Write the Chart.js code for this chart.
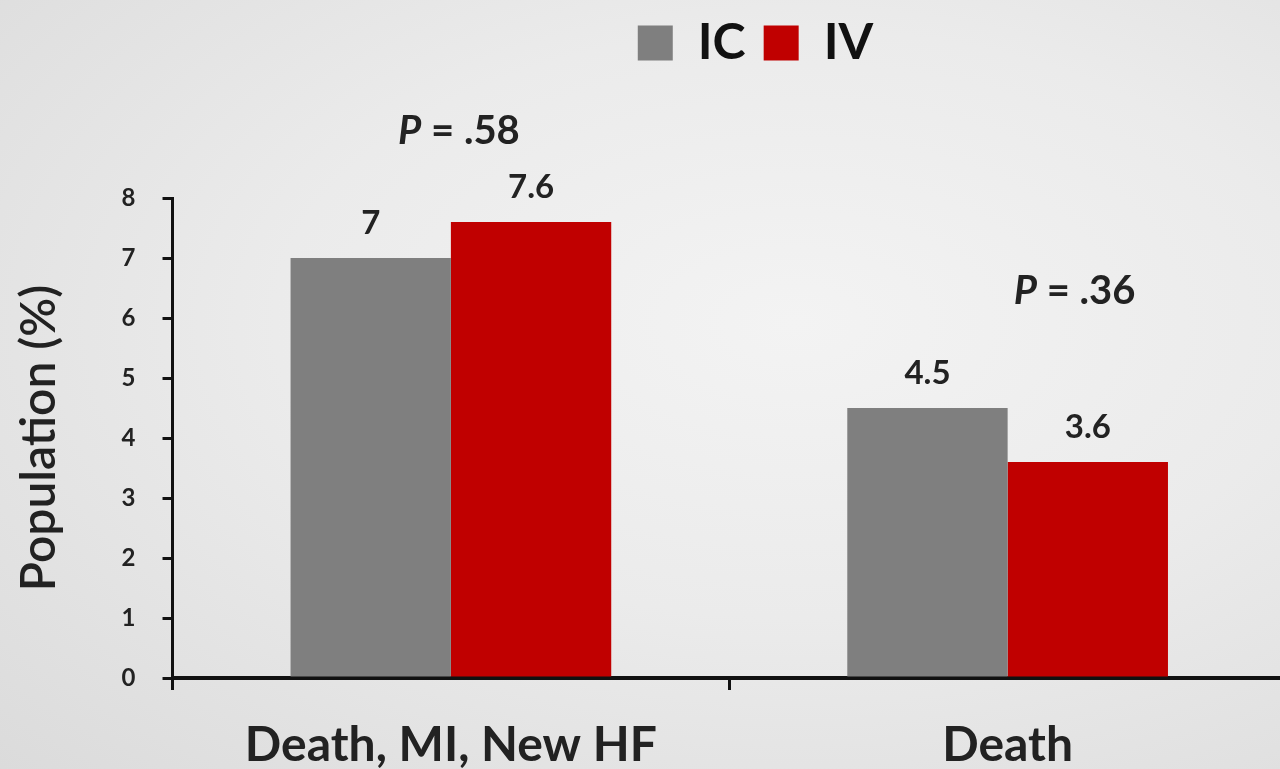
<!DOCTYPE html>
<html>
<head>
<meta charset="utf-8">
<script src="https://cdn.jsdelivr.net/npm/chart.js@4/dist/chart.umd.min.js"></script>
<style>
  html, body { margin: 0; padding: 0; width: 1280px; height: 769px; overflow: hidden; }
  body { background: radial-gradient(ellipse 90% 85% at 62% 42%, #f3f3f3 0%, #ebebeb 45%, #dadada 100%); }
  #wrap { position: absolute; left: 0; top: 0; width: 1290px; height: 769px; }
</style>
</head>
<body>
<div id="wrap"><canvas id="c" width="1286" height="769"></canvas></div>
<script>
const categories = ["Death, MI, New HF", "Death"];
const seriesNames = ["IC", "IV"];
const icValues = [7, 4.5];
const ivValues = [7.6, 3.6];
const valueLabels = [["7", "4.5"], ["7.6", "3.6"]];
const pLabels = [".58", ".36"];
const yTicks = [0, 1, 2, 3, 4, 5, 6, 7, 8];

const FONT = "Lato, 'Open Sans', 'DejaVu Sans', sans-serif";

const legendSpace = {
  id: 'legendSpace',
  beforeInit(chart) {
    const origFit = chart.legend.fit;
    chart.legend.fit = function () {
      origFit.bind(this)();
      this.height += 120;
    };
  },
  afterLayout(chart) {
    chart.legend.left += 110;
    chart.legend.right += 110;
  }
};

const labelsPlugin = {
  id: 'labelsPlugin',
  afterDatasetsDraw(chart) {
    const ctx = chart.ctx;
    ctx.save();
    ctx.fillStyle = '#222';
    ctx.textAlign = 'center';
    ctx.textBaseline = 'alphabetic';
    ctx.font = "bold 33px " + FONT;
    chart.data.datasets.forEach((ds, di) => {
      const meta = chart.getDatasetMeta(di);
      meta.data.forEach((bar, i) => {
        ctx.fillText(valueLabels[di][i], bar.x, bar.y - 24);
      });
    });
    // P values
    const xs = chart.scales.x;
    const pPos = [[8, 130], [67, 290]];
    pLabels.forEach((p, i) => {
      const cx = xs.getPixelForValue(i) + pPos[i][0];
      const cy = pPos[i][1] + 14;
      ctx.font = "italic bold 40px " + FONT;
      const w1 = ctx.measureText("P").width;
      ctx.font = "bold 40px " + FONT;
      const rest = " = " + p;
      const w2 = ctx.measureText(rest).width;
      const start = cx - (w1 + w2) / 2;
      ctx.textAlign = 'left';
      ctx.font = "italic bold 40px " + FONT;
      ctx.fillText("P", start, cy);
      ctx.font = "bold 40px " + FONT;
      ctx.fillText(rest, start + w1, cy);
      ctx.textAlign = 'center';
    });
    ctx.restore();
  }
};

new Chart(document.getElementById('c'), {
  type: 'bar',
  data: {
    labels: categories,
    datasets: [
      { label: seriesNames[0], data: icValues, backgroundColor: '#7f7f7f', categoryPercentage: 0.576, barPercentage: 1.0 },
      { label: seriesNames[1], data: ivValues, backgroundColor: '#c00000', categoryPercentage: 0.576, barPercentage: 1.0 }
    ]
  },
  options: {
    responsive: false,
    animation: false,
    layout: { padding: { top: 0, right: 0, bottom: -33, left: 5 } },
    plugins: {
      legend: {
        display: true,
        position: 'top',
        align: 'center',
        labels: {
          color: '#111',
          font: { family: FONT, size: 50, weight: 'bold' },
          boxWidth: 35, boxHeight: 35, padding: 18
        }
      },
      tooltip: { enabled: false }
    },
    scales: {
      x: {
        offset: true,
        grid: { display: true, offset: true, drawOnChartArea: false, drawTicks: true, tickLength: 12, color: '#111', lineWidth: 3 },
        border: { display: true, color: '#111', width: 4 },
        ticks: { color: '#222', font: { family: FONT, size: 48, weight: 'bold', lineHeight: 1.0 }, padding: 32 }
      },
      y: {
        min: 0, max: 8,
        afterBuildTicks(axis) { axis.ticks = yTicks.map(v => ({ value: v })); },
        grid: { display: true, drawOnChartArea: false, drawTicks: true, tickLength: 10, color: '#111', lineWidth: 3 },
        border: { display: true, color: '#111', width: 3 },
        ticks: { color: '#222', font: { family: FONT, size: 24, weight: 'bold' }, padding: 27 },
        title: { display: true, text: 'Population (%)', color: '#222', font: { family: FONT, size: 48, weight: '600' }, padding: { top: 6, bottom: 26 } }
      }
    }
  },
  plugins: [legendSpace, labelsPlugin]
});
</script>
</body>
</html>
